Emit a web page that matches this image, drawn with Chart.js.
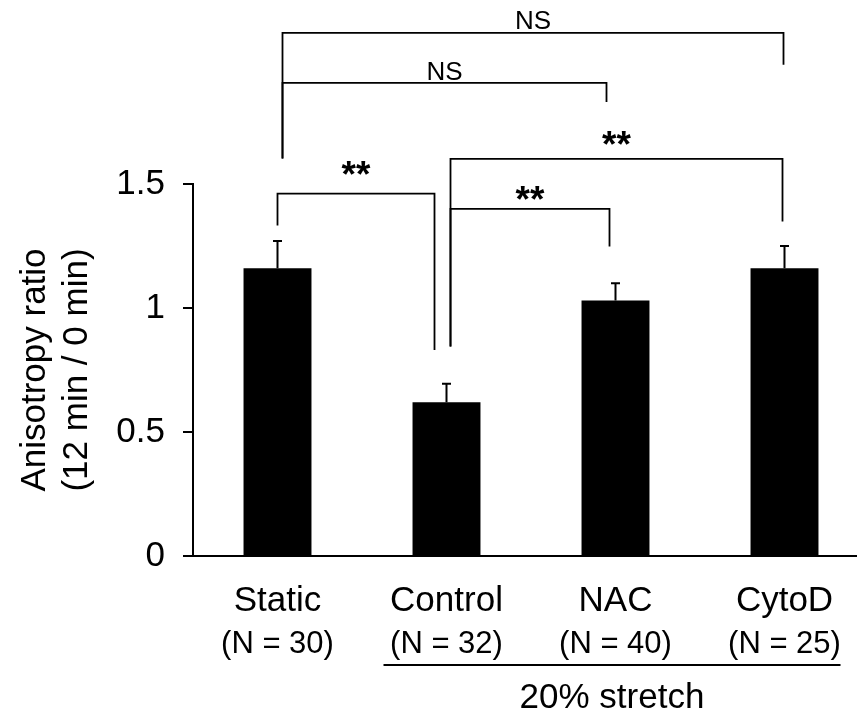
<!DOCTYPE html>
<html>
<head>
<meta charset="utf-8">
<script src="https://cdn.jsdelivr.net/npm/chart.js@4.4.0/dist/chart.umd.min.js"></script>
<style>
html, body { margin: 0; padding: 0; background: #fff; overflow: hidden; }
#wrap { position: relative; width: 880px; height: 715px; }
</style>
</head>
<body>
<div id="wrap"><canvas id="anisotropyChart"></canvas></div>
<script>
// data
var groups = ['Static', 'Control', 'NAC', 'CytoD'];
var sampleSizes = ['(N = 30)', '(N = 32)', '(N = 40)', '(N = 25)'];
var meanRatio = [1.16, 0.62, 1.03, 1.16];
var errorRatio = [0.11, 0.075, 0.07, 0.09];
var yTicks = [0, 0.5, 1, 1.5];
var stretchGroup = '20% stretch';
var comparisons = [[0, 3], [0, 2], [0, 1], [1, 3], [1, 2]];
var significance = ['NS', 'NS', '**', '**', '**'];

// bracket layout (heights in axis units, leg x offsets in px)
var bracketLayout = [
    { dxA: 5, dxB: -1, level: 2.109, legA: 1.603, legB: 1.981, textY: 2.126 },
    { dxA: 5, dxB: -9, level: 1.908, legA: 1.603, legB: 1.831, textY: 1.921 },
    { dxA: 0, dxB: -12, level: 1.461, legA: 1.333, legB: 0.831, textY: 1.487 },
    { dxA: 4, dxB: -2, level: 1.601, legA: 0.845, legB: 1.349, textY: 1.608 },
    { dxA: 4, dxB: -6, level: 1.400, legA: 0.845, legB: 1.248, textY: 1.386 }
];

var FONT = 'Liberation Sans, Arial, sans-serif';
Chart.defaults.font.family = FONT;
Chart.defaults.color = '#000';

var errorBars = {
    id: 'errorBars',
    afterDatasetsDraw: function (chart) {
        var ctx = chart.ctx;
        var y = chart.scales.y;
        var meta = chart.getDatasetMeta(0);
        ctx.save();
        ctx.strokeStyle = '#000';
        ctx.lineWidth = 2;
        meta.data.forEach(function (bar, i) {
            var top = y.getPixelForValue(meanRatio[i] + errorRatio[i]);
            ctx.beginPath();
            ctx.moveTo(bar.x, bar.y);
            ctx.lineTo(bar.x, top);
            ctx.moveTo(bar.x - 4.5, top);
            ctx.lineTo(bar.x + 4.5, top);
            ctx.stroke();
        });
        ctx.restore();
    }
};

var brackets = {
    id: 'brackets',
    afterDraw: function (chart) {
        var ctx = chart.ctx;
        var x = chart.scales.x;
        var y = chart.scales.y;
        ctx.save();
        ctx.strokeStyle = '#000';
        ctx.fillStyle = '#000';
        ctx.lineWidth = 1.8;
        comparisons.forEach(function (pair, i) {
            var b = bracketLayout[i];
            var xa = x.getPixelForValue(pair[0]) + b.dxA;
            var xb = x.getPixelForValue(pair[1]) + b.dxB;
            var yl = y.getPixelForValue(b.level);
            ctx.beginPath();
            ctx.moveTo(xa, y.getPixelForValue(b.legA));
            ctx.lineTo(xa, yl);
            ctx.lineTo(xb, yl);
            ctx.lineTo(xb, y.getPixelForValue(b.legB));
            ctx.stroke();
            var label = significance[i];
            ctx.font = label === 'NS' ? '26px ' + FONT : 'bold 37px ' + FONT;
            ctx.textAlign = 'center';
            ctx.textBaseline = 'alphabetic';
            ctx.fillText(label, (xa + xb) / 2, y.getPixelForValue(b.textY));
        });
        ctx.restore();
    }
};

var groupLabels = {
    id: 'groupLabels',
    afterDraw: function (chart) {
        var ctx = chart.ctx;
        var x = chart.scales.x;
        var base = chart.chartArea.bottom;
        ctx.save();
        ctx.fillStyle = '#000';
        ctx.strokeStyle = '#000';
        ctx.textAlign = 'center';
        ctx.textBaseline = 'alphabetic';
        groups.forEach(function (g, i) {
            var cx = x.getPixelForValue(i);
            ctx.font = '35px ' + FONT;
            ctx.fillText(g, cx, base + 55);
            ctx.font = '31px ' + FONT;
            ctx.fillText(sampleSizes[i], cx, base + 97);
        });
        var x1 = x.getPixelForValue(1) - 63;
        var x2 = x.getPixelForValue(3) + 56;
        ctx.lineWidth = 2;
        ctx.beginPath();
        ctx.moveTo(x1, base + 109);
        ctx.lineTo(x2, base + 109);
        ctx.stroke();
        ctx.font = '35px ' + FONT;
        ctx.fillText(stretchGroup, (x1 + x2) / 2, base + 152);
        ctx.restore();
    }
};

var ctx = document.getElementById('anisotropyChart').getContext('2d');
var anisotropyChart = new Chart(ctx, {
    type: 'bar',
    data: {
        labels: groups,
        datasets: [{
            data: meanRatio,
            backgroundColor: '#000',
            borderWidth: 0,
            barPercentage: 0.402,
            categoryPercentage: 1
        }]
    },
    options: {
        responsive: true,
        maintainAspectRatio: false,
        animation: false,
        layout: { padding: { top: 184, right: 11, left: 0, bottom: 0 } },
        plugins: {
            legend: { display: false },
            tooltip: { enabled: false }
        },
        scales: {
            x: {
                grid: { display: false },
                border: { display: true, color: '#000', width: 2 },
                ticks: { display: false },
                afterFit: function (scale) { scale.height = 159; }
            },
            y: {
                min: 0,
                max: 1.5,
                afterBuildTicks: function (scale) {
                    scale.ticks = yTicks.map(function (v) { return { value: v }; });
                },
                ticks: {
                    color: '#000',
                    font: { size: 35 },
                    padding: 18,
                    callback: function (v) { return String(v); }
                },
                grid: { drawOnChartArea: false, color: '#000', lineWidth: 2, tickLength: 10 },
                border: { display: true, color: '#000', width: 2 },
                title: {
                    display: true,
                    text: ['Anisotropy ratio', '(12 min / 0 min)'],
                    color: '#000',
                    font: { size: 35, lineHeight: 1.2 },
                    padding: { top: 14, bottom: 0 }
                },
                afterFit: function (scale) { scale.width = 193; }
            }
        }
    },
    plugins: [errorBars, brackets, groupLabels]
});
</script>
</body>
</html>
